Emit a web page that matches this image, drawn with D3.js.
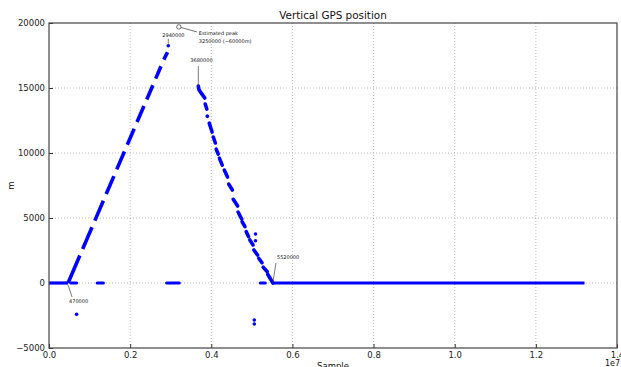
<!DOCTYPE html>
<html><head><meta charset="utf-8">
<script src="https://cdn.jsdelivr.net/npm/d3@7"></script>
<style>body{margin:0;background:#fff}svg{display:block}</style>
</head><body>
<script>
// ---- data ----
const xTicks = [0, 2e6, 4e6, 6e6, 8e6, 10e6, 12e6, 14e6];
const xTickLabels = ["0.0","0.2","0.4","0.6","0.8","1.0","1.2","1.4"];
const yTicks = [-5000, 0, 5000, 10000, 15000, 20000];
// flat zero stretches [start, end]
const zeroRuns = [[0, 470000], [5520000, 13200000]];
// ascent dashes [x0, y0, x1, y1]
const ascent = [
  [470000, 0, 760000, 2110],
  [830000, 2620, 1060000, 4290],
  [1130000, 4800, 1340000, 6330],
  [1410000, 6840, 1600000, 8220],
  [1670000, 8740, 1860000, 10120],
  [1930000, 10630, 2100000, 11870],
  [2170000, 12380, 2340000, 13620],
  [2410000, 14120, 2560000, 15210],
  [2630000, 15720, 2760000, 16670],
  [2830000, 17180, 2920000, 17750]
];
// descent dashes as short polylines
const descent = [
  [[3680000,15150],[3700000,14840],[3770000,14530],[3840000,14230]],
  [[3850000,13770],[3890000,13380]],
  [[3900000,12840],[3905000,12820]],
  [[3950000,12300],[4020000,11610]],
  [[4050000,11230],[4100000,10770]],
  [[4120000,10300],[4170000,9920]],
  [[4200000,9610],[4270000,9070]],
  [[4320000,8690],[4400000,8150]],
  [[4430000,7610],[4520000,7150]],
  [[4540000,6440],[4650000,5920]],
  [[4660000,5460],[4750000,4920]],
  [[4760000,4710],[4830000,4330]],
  [[4860000,3950],[4920000,3560]],
  [[4950000,3310],[5030000,2920]],
  [[5050000,2540],[5140000,2150]],
  [[5170000,1900],[5250000,1560]],
  [[5280000,1210],[5380000,870]],
  [[5390000,670],[5520000,0]]
];
// outlier runs lying on zero [start, end]
const zeroOutliers = [[540000, 680000], [1190000, 1340000], [2900000, 2970000], [3000000, 3210000], [5210000, 5330000]];
// isolated outlier points [x, y]
const outliers = [[2940000, 18250], [680000, -2410], [5090000, 3770], [5090000, 3250], [5060000, -2850], [5060000, -3150]];
// annotations
const peak = {x: 3200000, y: 19700, text: ["Estimated peak", "3250000 (~60000m)"]};
const notes = [
  {label: "2940000", x: 2940000, y: 18250},
  {label: "3680000", x: 3680000, y: 15150},
  {label: "470000", x: 470000, y: 0},
  {label: "5520000", x: 5520000, y: 0}
];

// ---- layout ----
const W = 621, H = 367;
const m = {l: 49, r: 4, t: 23, b: 19};
const svg = d3.select("body").append("svg").attr("width", W).attr("height", H);
const x = d3.scaleLinear().domain([0, 1.4e7]).range([m.l, W - m.r]);
const y = d3.scaleLinear().domain([-5000, 20000]).range([H - m.b, m.t]);
const font = "DejaVu Sans, sans-serif";
const blue = "#0000ff";

// grid
const g = svg.append("g");
g.selectAll(".gx").data(xTicks.slice(1, -1)).enter().append("line")
  .attr("x1", d => x(d)).attr("x2", d => x(d)).attr("y1", y(-5000)).attr("y2", y(20000))
  .attr("stroke", "#aaa").attr("stroke-width", 0.8).attr("stroke-dasharray", "1,2");
g.selectAll(".gy").data(yTicks.slice(1, -1)).enter().append("line")
  .attr("y1", d => y(d)).attr("y2", d => y(d)).attr("x1", x(0)).attr("x2", x(1.4e7))
  .attr("stroke", "#aaa").attr("stroke-width", 0.8).attr("stroke-dasharray", "1,2");

// axes
const xAxis = d3.axisBottom(x).tickValues(xTicks).tickFormat((d, i) => xTickLabels[i]).tickSizeInner(-4).tickSizeOuter(0).tickPadding(4);
const yAxis = d3.axisLeft(y).tickValues(yTicks).tickSizeInner(-4).tickSizeOuter(0).tickPadding(4).tickFormat(d3.format("d"));
const ax = svg.append("g").attr("transform", `translate(0,${y(-5000)})`).call(xAxis);
const ay = svg.append("g").attr("transform", `translate(${x(0)},0)`).call(yAxis);
[ax, ay].forEach(a => {
  a.select(".domain").remove();
  a.selectAll("text").attr("font-family", font).attr("font-size", 8.5).attr("fill", "#222");
  a.selectAll("line").attr("stroke", "#333");
});
ax.selectAll("text").attr("y", 0).attr("dy", 0).attr("transform", "translate(0,10)");
ay.selectAll("text").attr("dy", "0.35em").text(d => d < 0 ? "\u2212" + Math.abs(d) : d);

// data marks
const marks = svg.append("g");
zeroRuns.forEach(r => marks.append("line")
  .attr("x1", x(r[0])).attr("x2", x(r[1])).attr("y1", y(0)).attr("y2", y(0))
  .attr("stroke", blue).attr("stroke-width", 3.2));
zeroOutliers.forEach(r => marks.append("line")
  .attr("x1", x(r[0])).attr("x2", x(r[1])).attr("y1", y(0)).attr("y2", y(0))
  .attr("stroke", blue).attr("stroke-width", 3.2).attr("stroke-linecap", "round"));
ascent.forEach(s => marks.append("line")
  .attr("x1", x(s[0])).attr("y1", y(s[1])).attr("x2", x(s[2])).attr("y2", y(s[3]))
  .attr("stroke", blue).attr("stroke-width", 3.6).attr("stroke-linecap", "butt"));
const line = d3.line().x(d => x(d[0])).y(d => y(d[1]));
descent.forEach(s => marks.append("path").attr("d", line(s)).attr("fill", "none")
  .attr("stroke", blue).attr("stroke-width", 3.6).attr("stroke-linecap", "round").attr("stroke-linejoin", "round"));
marks.selectAll("circle").data(outliers).enter().append("circle")
  .attr("cx", d => x(d[0])).attr("cy", d => y(d[1])).attr("r", 1.8).attr("fill", blue);

// frame
svg.append("rect").attr("x", x(0)).attr("y", y(20000)).attr("width", x(1.4e7) - x(0)).attr("height", y(-5000) - y(20000))
  .attr("fill", "none").attr("stroke", "#444").attr("stroke-width", 1.2);

// annotations
const an = svg.append("g").attr("font-family", font).attr("font-size", 5).attr("fill", "#111");
const px = x(peak.x), py = y(peak.y);
an.append("circle").attr("cx", px).attr("cy", py).attr("r", 2.2).attr("fill", "#fff").attr("stroke", "#333").attr("stroke-width", 0.7);
an.append("line").attr("x1", px + 2.2).attr("y1", py + 0.6).attr("x2", px + 18).attr("y2", py + 5)
  .attr("stroke", "#333").attr("stroke-width", 0.7);
an.append("text").attr("x", px + 20).attr("y", py + 8).text(peak.text[0]);
an.append("text").attr("x", px + 20).attr("y", py + 16).text(peak.text[1]);

const offs = [
  {tx: -6, ty: -9, anchor: "start", l: [0, -2, 0, -7]},
  {tx: -8, ty: -24, anchor: "start", l: [0, 0, 0, -20]},
  {tx: 1, ty: 20, anchor: "start", l: [0, 2, 4, 14]},
  {tx: 4, ty: -24, anchor: "start", l: [0, -1, 3, -20]}
];
notes.forEach((n, i) => {
  const o = offs[i], nx = x(n.x), ny = y(n.y);
  an.append("line").attr("x1", nx + o.l[0]).attr("y1", ny + o.l[1]).attr("x2", nx + o.l[2]).attr("y2", ny + o.l[3])
    .attr("stroke", "#444").attr("stroke-width", 0.7);
  an.append("text").attr("x", nx + o.tx).attr("y", ny + o.ty).attr("text-anchor", o.anchor).text(n.label);
});

// titles
svg.append("text").attr("x", (x(0) + x(1.4e7)) / 2).attr("y", 19).attr("text-anchor", "middle")
  .attr("font-family", font).attr("font-size", 10.4).attr("fill", "#111").text("Vertical GPS position");
svg.append("text").attr("x", (x(0) + x(1.4e7)) / 2).attr("y", 369).attr("text-anchor", "middle")
  .attr("font-family", font).attr("font-size", 8.5).attr("fill", "#111").text("Sample");
svg.append("text").attr("transform", `translate(14,${(y(20000) + y(-5000)) / 2}) rotate(-90)`).attr("text-anchor", "middle")
  .attr("font-family", font).attr("font-size", 8.5).attr("fill", "#111").text("m");
svg.append("text").attr("x", 620).attr("y", 366).attr("text-anchor", "end")
  .attr("font-family", font).attr("font-size", 8).attr("fill", "#111").text("1e7");
</script>
</body></html>
